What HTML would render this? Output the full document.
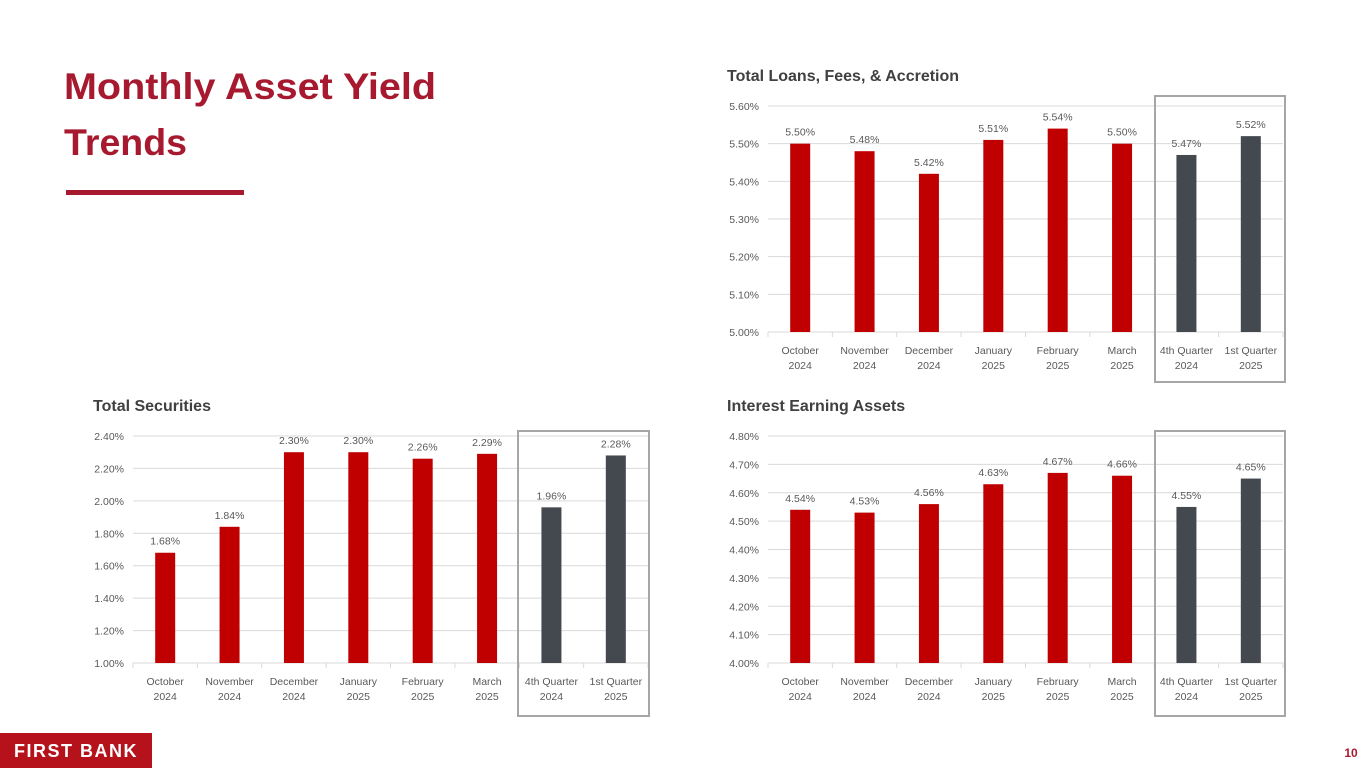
<!DOCTYPE html>
<html><head><meta charset="utf-8"><style>
html,body{margin:0;padding:0;background:#fff;width:1365px;height:768px;overflow:hidden}
svg{display:block;font-family:"Liberation Sans",sans-serif}
</style></head><body>
<svg id="page" width="1365" height="768" viewBox="0 0 1365 768">
<g>
<text x="64" y="99" font-size="37" font-weight="bold" fill="#a6192e" textLength="372" lengthAdjust="spacingAndGlyphs">Monthly Asset Yield</text>
<text x="64" y="155" font-size="37" font-weight="bold" fill="#a6192e" textLength="123" lengthAdjust="spacingAndGlyphs">Trends</text>
</g>
<rect x="66" y="190" width="178" height="5" fill="#a6192e"/>
<g>
<rect x="0" y="733" width="152" height="35" fill="#b5121b"/>
<text x="76" y="757" font-size="18" font-weight="bold" fill="#fff" text-anchor="middle" letter-spacing="1.5">FIRST BANK</text>
</g>
<text x="1351" y="757" font-size="12" font-weight="bold" fill="#a6192e" text-anchor="middle">10</text>
<g id="charts"></g>
</svg>
<script>
const categories = ["October|2024","November|2024","December|2024","January|2025","February|2025","March|2025","4th Quarter|2024","1st Quarter|2025"];
const loansValues = [5.50,5.48,5.42,5.51,5.54,5.50,5.47,5.52];
const loansTicks = [5.00,5.10,5.20,5.30,5.40,5.50,5.60];
const securitiesValues = [1.68,1.84,2.30,2.30,2.26,2.29,1.96,2.28];
const securitiesTicks = [1.00,1.20,1.40,1.60,1.80,2.00,2.20,2.40];
const earningValues = [4.54,4.53,4.56,4.63,4.67,4.66,4.55,4.65];
const earningTicks = [4.00,4.10,4.20,4.30,4.40,4.50,4.60,4.70,4.80];

const NS = "http://www.w3.org/2000/svg";
const root = document.getElementById('charts');
function mk(tag, attrs, parent, txt){
  const e = document.createElementNS(NS, tag);
  for (const k in attrs) e.setAttribute(k, attrs[k]);
  if (txt !== undefined) e.textContent = txt;
  parent.appendChild(e);
  return e;
}
function drawChart(name, title, titleX, titleY, x0, x1, yTop, yBot, ticks, values, box){
  const g = mk('g', {}, root);
  
  
  const t = mk('text', {x:titleX, y:titleY, 'font-size':16, 'font-weight':'bold', fill:'#404040'}, g, title);
  
  
  const vmin = ticks[0], vmax = ticks[ticks.length-1];
  const yS = v => yBot - (v - vmin) / (vmax - vmin) * (yBot - yTop);
  const step = (x1 - x0) / categories.length;
  const xC = i => x0 + step * (i + 0.5);
  ticks.forEach(v => {
    const ln = mk('line', {x1:x0, x2:x1, y1:yS(v), y2:yS(v), stroke:'#d9d9d9', 'stroke-width':1}, g);
    
    
    const lb = mk('text', {x:x0-9, y:yS(v)+4, 'font-size':10.5, fill:'#595959', 'text-anchor':'end'}, g, v.toFixed(2) + '%');
    
    
  });
  for (let i = 0; i <= categories.length; i++){
    mk('line', {x1:x0+step*i, x2:x0+step*i, y1:yBot, y2:yBot+5, stroke:'#d9d9d9'}, g);
  }
  values.forEach((v, i) => {
    const b = mk('rect', {x:xC(i)-10, y:yS(v), width:20, height:yBot-yS(v), fill: i < 6 ? '#c00000' : '#44494f'}, g);
    
    
    const vl = mk('text', {x:xC(i), y:yS(v)-8, 'font-size':10.5, fill:'#595959', 'text-anchor':'middle'}, g, v.toFixed(2) + '%');
    
    
    const parts = categories[i].split('|');
    parts.forEach((p, j) => {
      const cl = mk('text', {x:xC(i), y:yBot+22+j*15, 'font-size':10.5, fill:'#595959', 'text-anchor':'middle'}, g, p);
      
      
    });
  });
  const r = mk('rect', {x:box[0], y:box[1], width:box[2], height:box[3], fill:'none', stroke:'#a6a6a6', 'stroke-width':2}, g);
  
  
}
drawChart('loans-chart', 'Total Loans, Fees, & Accretion', 727, 81, 768, 1283, 106, 332, loansTicks, loansValues, [1155, 96, 130, 286]);
drawChart('securities-chart', 'Total Securities', 93, 411, 133, 648, 436, 663, securitiesTicks, securitiesValues, [518, 431, 131, 285]);
drawChart('earning-assets-chart', 'Interest Earning Assets', 727, 411, 768, 1283, 436, 663, earningTicks, earningValues, [1155, 431, 130, 285]);
</script>
</body></html>
